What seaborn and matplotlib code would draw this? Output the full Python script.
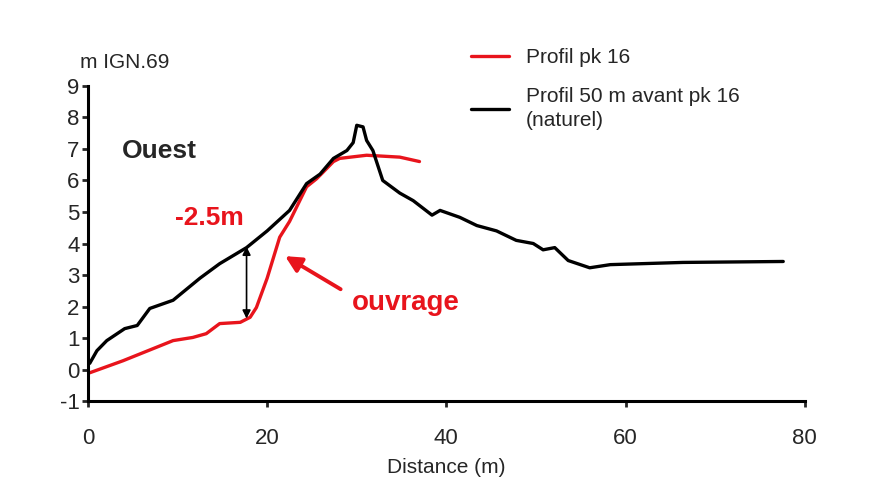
import matplotlib
matplotlib.use("Agg")
import matplotlib.pyplot as plt
import seaborn as sns
import pandas as pd

# Black profile: 50 m before pk 16 (natural)
black_x = [0.2, 1.0, 2.1, 4.1, 5.5, 6.9, 9.5, 12.5, 14.7, 17.7, 20.0, 22.5, 24.4, 25.9,
           27.4, 28.9, 29.6, 30.0, 30.7, 31.1, 31.8, 32.9, 34.8, 36.3, 38.4, 39.3, 41.5,
           43.4, 45.6, 47.8, 49.7, 50.8, 52.1, 53.6, 56.0, 58.3, 66.4, 77.6]
black_y = [0.2, 0.6, 0.92, 1.3, 1.4, 1.94, 2.2, 2.9, 3.36, 3.87, 4.4, 5.05, 5.9, 6.2,
           6.7, 6.95, 7.2, 7.75, 7.7, 7.27, 6.95, 6.0, 5.6, 5.36, 4.9, 5.05, 4.83,
           4.57, 4.4, 4.1, 4.0, 3.8, 3.87, 3.46, 3.23, 3.33, 3.4, 3.43]

# Red profile: pk 16
red_x = [0.2, 3.9, 9.5, 11.7, 13.2, 14.7, 17.0, 18.1, 18.8, 20.0, 21.4, 22.5, 24.4,
         25.5, 26.2, 27.4, 28.1, 31.1, 34.8, 37.0]
red_y = [-0.1, 0.28, 0.92, 1.02, 1.14, 1.46, 1.5, 1.66, 1.97, 2.9, 4.2, 4.7, 5.8,
         6.05, 6.25, 6.6, 6.7, 6.8, 6.74, 6.6]

series_names = ["Profil pk 16", "Profil 50 m avant pk 16\n(naturel)"]
x_ticks = [0, 20, 40, 60, 80]
y_ticks = list(range(-1, 10))

df = pd.concat([
    pd.DataFrame({"x": red_x, "y": red_y, "serie": series_names[0]}),
    pd.DataFrame({"x": black_x, "y": black_y, "serie": series_names[1]}),
], ignore_index=True)

sns.set_theme(style="ticks")
plt.rcParams["font.family"] = ["Liberation Sans", "DejaVu Sans"]
plt.rcParams["axes.unicode_minus"] = False

fig = plt.figure(figsize=(8.77, 4.88), dpi=100)
ax = fig.add_axes([0.1003, 0.178, 0.8173, 0.646])

sns.lineplot(data=df, x="x", y="y", hue="serie", sort=False, estimator=None,
             palette={series_names[0]: "#e8141c", series_names[1]: "#000000"},
             linewidth=2.4, ax=ax, legend=True)

ax.set_xlim(0, 80)
ax.set_ylim(-1, 9)
ax.set_xticks(x_ticks)
ax.set_yticks(y_ticks)
ax.tick_params(axis="y", labelsize=16, width=2, length=4, direction="out", pad=2)
ax.tick_params(axis="x", labelsize=16, width=2, length=4, direction="out", pad=15)
for s in ["top", "right"]:
    ax.spines[s].set_visible(False)
for s in ["left", "bottom"]:
    ax.spines[s].set_linewidth(2.2)
    ax.spines[s].set_color("black")
ax.set_xlabel("Distance (m)", fontsize=15, labelpad=7)
ax.set_ylabel("")
ax.text(-0.9, 9.75, "m IGN.69", fontsize=15, ha="left", va="center", clip_on=False)

# Legend
handles, labels = ax.get_legend_handles_labels()
leg = ax.legend(handles, labels, loc="upper left", bbox_to_anchor=(0.535, 1.12),
                frameon=False, fontsize=15, handlelength=1.8, labelspacing=0.95,
                handletextpad=0.8, borderpad=0, borderaxespad=0)
for t in leg.get_texts():
    t.set_linespacing(1.35)

# Annotations
ax.text(3.8, 6.95, "Ouest", fontsize=19, fontweight="bold", ha="left", va="center")
ax.text(13.6, 4.8, "-2.5m", fontsize=19, fontweight="bold", color="#e8141c",
        ha="center", va="center")
ax.text(35.5, 2.1, "ouvrage", fontsize=20, fontweight="bold", color="#e8141c",
        ha="center", va="center")
ax.annotate("", xy=(17.7, 3.9), xytext=(17.7, 1.62),
            arrowprops=dict(arrowstyle="<|-|>", color="black", lw=1.2,
                            mutation_scale=12, shrinkA=0, shrinkB=0))
ax.annotate("", xy=(22.0, 3.6), xytext=(28.2, 2.55),
            arrowprops=dict(arrowstyle="-|>", color="#e8141c", lw=2.8,
                            mutation_scale=24, shrinkA=0, shrinkB=0))

fig.savefig("out.png", dpi=100)
